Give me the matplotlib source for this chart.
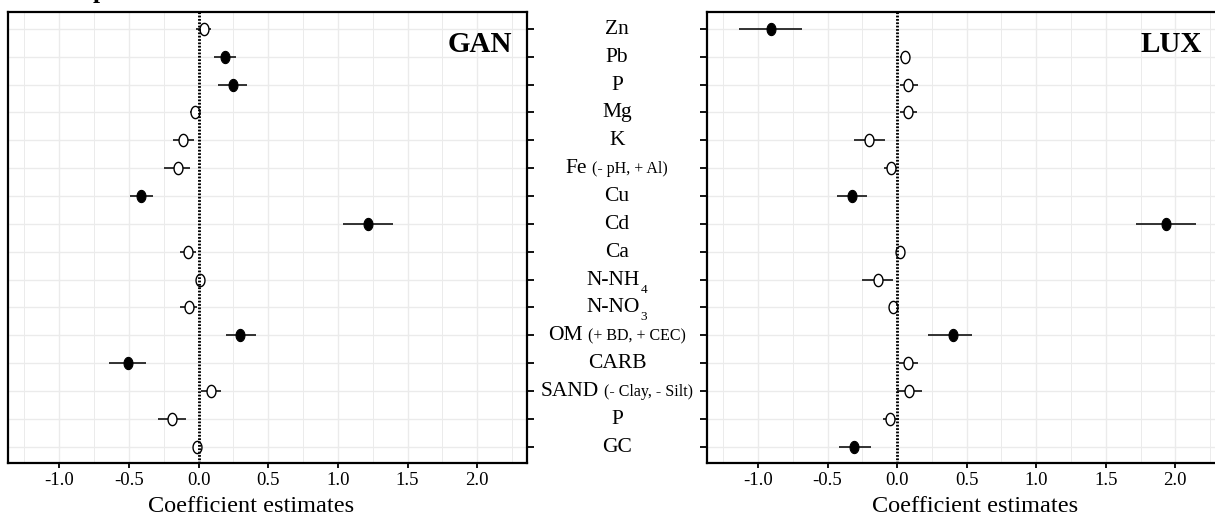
import matplotlib
matplotlib.use('Agg')
import matplotlib.pyplot as plt
import numpy as np
from matplotlib.path import Path
from matplotlib import transforms
from matplotlib.ticker import MultipleLocator, FormatStrFormatter

plt.rcParams['font.family'] = ['Liberation Serif', 'DejaVu Serif']
plt.rcParams['axes.unicode_minus'] = False

# ---------------- data ----------------
categories = ['Zn', 'Pb', 'P', 'Mg', 'K', 'Fe', 'Cu', 'Cd', 'Ca', 'N-NH', 'N-NO',
              'OM', 'CARB', 'SAND', 'P', 'GC']
subscripts = ['', '', '', '', '', '', '', '', '', '4', '3', '', '', '', '', '']
notes = ['', '', '', '', '', '(- pH, + Al)', '', '', '', '', '', '(+ BD, + CEC)',
         '', '(- Clay, - Silt)', '', '']

gan_est = [0.04, 0.19, 0.244, -0.027, -0.11, -0.15, -0.41, 1.216, -0.074, 0.013,
           -0.071, 0.30, -0.506, 0.09, -0.189, -0.011]
gan_lo = [-0.02, 0.114, 0.143, -0.06, -0.186, -0.247, -0.494, 1.035, -0.13, -0.01,
          -0.13, 0.20, -0.64, 0.018, -0.29, -0.03]
gan_hi = [0.09, 0.27, 0.35, 0.01, -0.035, -0.059, -0.328, 1.394, -0.018, 0.035,
          -0.01, 0.41, -0.374, 0.162, -0.088, 0.01]
gan_sig = [False, True, True, False, False, False, True, True, False, False,
           False, True, True, False, False, False]

lux_est = [-0.909, 0.053, 0.081, 0.077, -0.199, -0.046, -0.321, 1.935, 0.02, -0.14,
           -0.03, 0.40, 0.08, 0.085, -0.05, -0.31]
lux_lo = [-1.134, 0.02, 0.02, 0.02, -0.309, -0.098, -0.43, 1.72, 0.0, -0.25,
          -0.05, 0.22, 0.01, 0.0, -0.10, -0.42]
lux_hi = [-0.686, 0.094, 0.149, 0.14, -0.086, 0.0, -0.214, 2.149, 0.04, -0.03,
          -0.01, 0.54, 0.15, 0.18, 0.01, -0.19]
lux_sig = [True, False, False, False, False, False, True, True, False, False,
           False, True, False, False, False, True]

panel_titles = ['GAN', 'LUX']
x_label = 'Coefficient estimates'
XLIM = (-1.369, 2.357)

# ---------------- figure ----------------
W, H = 1215, 517
fig = plt.figure(figsize=(W / 100, H / 100), dpi=100)


def px_box(x0, x1, ytop, ybot):
    return [x0 / W, 1 - ybot / H, (x1 - x0) / W, (ybot - ytop) / H]


axL = fig.add_axes(px_box(7.7, 527, 12.2, 463.3))
axR = fig.add_axes(px_box(706.7, 1225, 12.2, 463.3))

theta = np.linspace(0, 2 * np.pi, 80)
ell = Path(np.column_stack([0.73 * np.cos(theta), np.sin(theta)]), closed=True)

n = len(categories)
ypos = np.arange(n)[::-1]


def panel(ax, est, lo, hi, sig, title, side, title_dx):
    est = np.asarray(est)
    sig = np.asarray(sig, bool)
    ax.set_xlim(XLIM)
    ax.set_ylim(-0.6, n - 0.4)
    ax.xaxis.set_major_locator(MultipleLocator(0.5))
    ax.xaxis.set_minor_locator(MultipleLocator(0.25))
    ax.xaxis.set_major_formatter(FormatStrFormatter('%.1f'))
    ax.set_yticks(ypos)
    ax.set_yticklabels([])
    ax.set_axisbelow(True)
    ax.grid(which='major', color='#ebebeb', lw=1.0)
    ax.grid(which='minor', axis='x', color='#ebebeb', lw=0.7)
    ax.tick_params(axis='x', which='minor', length=0)
    ax.tick_params(axis='x', which='major', length=3.6, width=1.3, pad=3,
                   labelsize=13.5, direction='out', colors='black')
    if side == 'right':
        ax.yaxis.tick_right()
    else:
        ax.yaxis.tick_left()
    ax.tick_params(axis='y', length=4.8, width=1.3, direction='out')
    for s in ax.spines.values():
        s.set_linewidth(1.6)
        s.set_color('black')
    ax.hlines(ypos, lo, hi, color='#111111', lw=1.2, zorder=2)
    ax.plot(est[sig], ypos[sig], ls='none', marker=ell, ms=8.8, mfc='black',
            mec='black', mew=0.8, zorder=3)
    ax.plot(est[~sig], ypos[~sig], ls='none', marker=ell, ms=8.8, mfc='white',
            mec='black', mew=1.0, zorder=3)
    ax.axvline(0, color='black', lw=2.1, ls=(0, (0.6, 0.55)), zorder=4)
    ax.text(1 - title_dx / 518, 1 - 39.7 / 451, title, transform=ax.transAxes,
            ha='right', va='baseline', fontsize=21, fontweight='bold')


panel(axL, gan_est, gan_lo, gan_hi, gan_sig, panel_titles[0], 'right', 15)
panel(axR, lux_est, lux_lo, lux_hi, lux_sig, panel_titles[1], 'left', 23)

# x labels
fig.text(251 / W, (H - 511.7) / H, x_label, ha='center', va='baseline', fontsize=17.5)
fig.text(975.5 / W, (H - 511.7) / H, x_label, ha='center', va='baseline', fontsize=17.5)

# cropped bold title fragment at top-left (cut by the top edge, as in the reference)
fig.text(100 / W, 1 + 1.7 / H, 'p', ha='center', va='baseline', fontsize=18,
         fontweight='bold')

# category labels centred between panels
base = transforms.blended_transform_factory(fig.transFigure, axL.transData)
xc = 617 / W
label_arts = []
for yv, name, sub, note in zip(ypos, categories, subscripts, notes):
    pieces = [(name, 15.5, 0.0, 0.0)]
    if sub:
        pieces.append((sub, 9.5, 8.0, 0.5))
    if note:
        pieces.append((note, 11.5, 0.0, 5.0))
    arts = []
    for txt, size, dy, gap in pieces:
        a = fig.text(xc, yv, txt, fontsize=size, ha='left', va='baseline',
                     transform=base)
        arts.append((a, dy, gap))
    label_arts.append(arts)

fig.canvas.draw()
r = fig.canvas.get_renderer()
for arts in label_arts:
    widths = [a.get_window_extent(r).width for a, _, _ in arts]
    total = sum(widths) + sum(g for _, _, g in arts[1:])
    start = -total / 2
    for k, ((a, dy, gap), w) in enumerate(zip(arts, widths)):
        if k > 0:
            start += gap
        a.set_transform(base + transforms.ScaledTranslation(
            start / 100, -(5.0 + dy) / 100, fig.dpi_scale_trans))
        start += w

fig.savefig('out.png', dpi=100)
